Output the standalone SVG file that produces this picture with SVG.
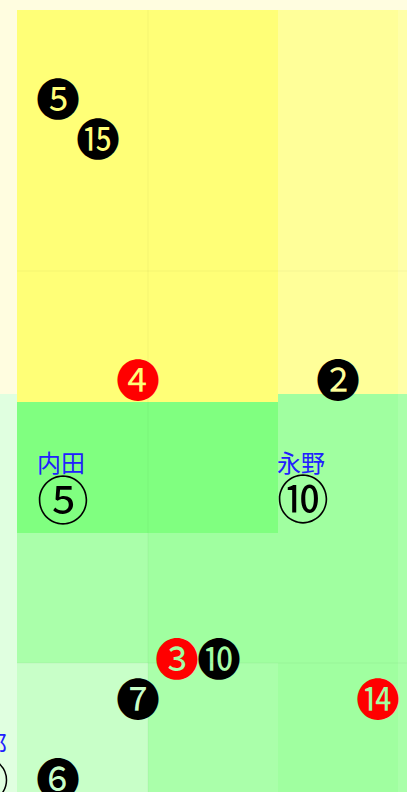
<svg xmlns="http://www.w3.org/2000/svg" width="407" height="792" viewBox="0 0 407 792">
<style>
.num{font-family:"Noto Sans CJK JP","DejaVu Sans",sans-serif;font-size:44px;text-anchor:middle;dominant-baseline:central}
.blk{fill:#000}
.red{fill:#ff0000}
.ring{font-family:"Noto Sans CJK JP","DejaVu Sans",sans-serif;font-size:52px;text-anchor:middle;dominant-baseline:central;fill:#000}
.name{font-family:"Noto Sans CJK JP",sans-serif;font-size:24px;fill:#2020ff}
.grid{stroke:#000;stroke-opacity:0.04;stroke-width:1;fill:none}
</style>
<g id="background">
<rect x="0" y="0" width="407" height="394" fill="#fffde0"/>
<rect x="0" y="394" width="407" height="398" fill="#e0ffe0"/>
<rect x="17" y="10" width="261" height="392" fill="#ffff77"/>
<rect x="278" y="10" width="120" height="384" fill="#ffff99"/>
<rect x="398" y="10" width="9" height="384" fill="#ffffa8"/>
<rect x="278" y="394" width="120" height="398" fill="#a0ffa0"/>
<rect x="398" y="394" width="9" height="398" fill="#aaffaa"/>
<rect x="17" y="402" width="261" height="131" fill="#80ff80"/>
<rect x="17" y="533" width="131" height="130" fill="#aaffaa"/>
<rect x="148" y="533" width="130" height="130" fill="#a0ffa0"/>
<rect x="17" y="663" width="131" height="129" fill="#c8ffc8"/>
<rect x="148" y="663" width="130" height="129" fill="#aaffaa"/>
<path class="grid" d="M148 10V792M17 271H407M17 663H407"/>
</g>
<g id="labels">
<text class="name" x="37" y="472">内田</text>
<text class="ring" x="63" y="497">⑤</text>
<text class="name" x="277" y="472">永野</text>
<text class="ring" x="303" y="496">⑩</text>
<text class="name" x="7" y="753" text-anchor="end">郎</text>
<circle cx="-15.5" cy="780" r="22" fill="none" stroke="#000" stroke-width="1.5"/>
</g>
<g id="markers">
<text class="num blk" x="58" y="97">❺</text>
<text class="num blk" x="98" y="137">⓯</text>
<text class="num red" x="138" y="378">❹</text>
<text class="num blk" x="338" y="378">❷</text>
<text class="num red" x="177" y="657">❸</text>
<text class="num blk" x="219" y="657">❿</text>
<text class="num blk" x="138" y="697">❼</text>
<text class="num red" x="378" y="697">⓮</text>
<text class="num blk" x="58" y="777">❻</text>
</g>
</svg>
